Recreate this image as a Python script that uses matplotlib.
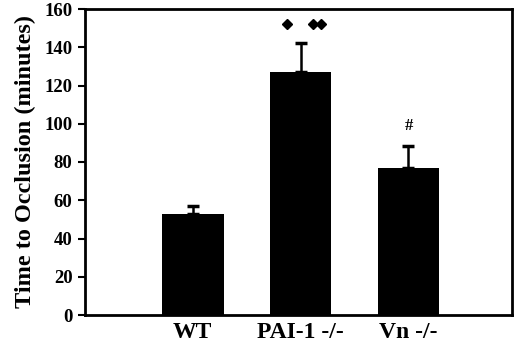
import matplotlib
matplotlib.use("Agg")
import matplotlib.pyplot as plt
import numpy as np

categories = ["WT", "PAI-1 -/-", "Vn -/-"]
means = [52.8, 127, 77]
errors = [4, 15.2, 11.4]
yticks = [0, 20, 40, 60, 80, 100, 120, 140, 160]

plt.rcParams['font.family'] = ['Liberation Serif', 'DejaVu Serif']
plt.rcParams['font.weight'] = 'bold'

fig = plt.figure(figsize=(5.2, 3.43), dpi=100)
ax = fig.add_axes([85/520, 1-315/343, (512-85)/520, (315-9)/343])

x = np.arange(len(categories))
ax.bar(x, means, width=0.57, color='black', zorder=2)
ax.errorbar(x, means, yerr=[np.zeros(3), errors], fmt='none', ecolor='black',
            elinewidth=1.8, capsize=4.5, capthick=2.5, zorder=1)

ax.set_xlim(-1.0, 2.96)
ax.set_ylim(0, 160)
ax.set_yticks(yticks)
ax.set_xticks(x)
ax.set_xticklabels(categories, fontsize=17, fontweight='bold')
ax.tick_params(axis='x', length=0, pad=5)
ax.tick_params(axis='y', direction='out', length=5, width=1.5, labelsize=13.5, pad=4)
for lab in ax.get_yticklabels():
    lab.set_fontweight('bold')
for s in ax.spines.values():
    s.set_linewidth(2)
ax.set_ylabel("Time to Occlusion (minutes)", fontsize=17.5, fontweight='bold', labelpad=6)

# significance markers
ax.plot([0.87, 1.11, 1.19], [152, 152, 152], linestyle='none', marker='D',
        markersize=5, color='black')
ax.text(2, 99, "#", ha='center', va='center', fontsize=12, fontweight='bold')

fig.savefig("out.png", dpi=100)
